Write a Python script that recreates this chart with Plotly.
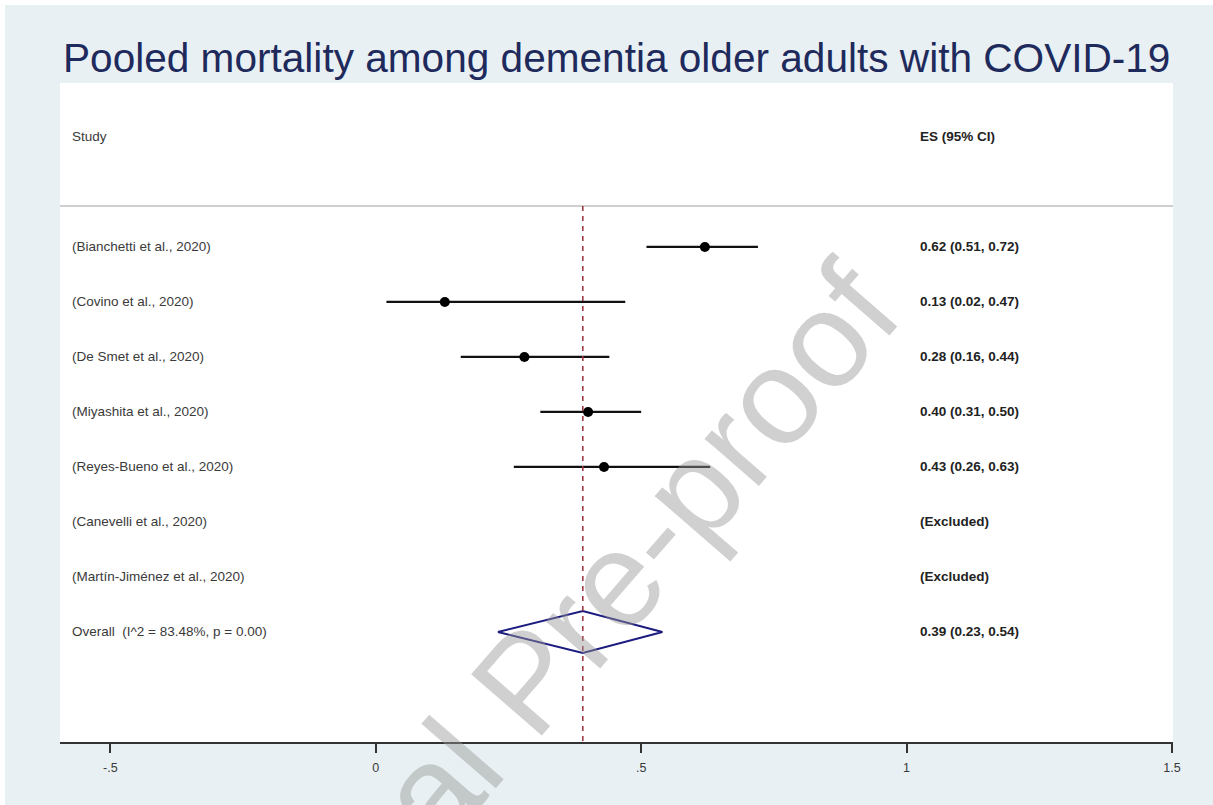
import plotly.graph_objects as go

# Study-level estimates (proportion who died, with 95% CI)
studies = [
    "(Bianchetti et al., 2020)",
    "(Covino et al., 2020)",
    "(De Smet et al., 2020)",
    "(Miyashita et al., 2020)",
    "(Reyes-Bueno et al., 2020)",
    "(Canevelli et al., 2020)",
    "(Martín-Jiménez et al., 2020)",
]
es = [0.62, 0.13, 0.28, 0.40, 0.43, None, None]
ci_low = [0.51, 0.02, 0.16, 0.31, 0.26, None, None]
ci_high = [0.72, 0.47, 0.44, 0.50, 0.63, None, None]

# Pooled estimate
overall_label = "Overall  (I^2 = 83.48%, p = 0.00)"
overall_es = 0.39
overall_low = 0.23
overall_high = 0.54

tick_vals = [-0.5, 0, 0.5, 1, 1.5]
tick_text = ["-.5", "0", ".5", "1", "1.5"]

title = "Pooled mortality among dementia older adults with COVID-19"

# ---- layout constants ----
W, H = 1213, 805
M_L, M_R, M_T, M_B = 60, 40, 83, 63
PW, PH = W - M_L - M_R, H - M_T - M_B
BG = "#e8f0f3"
TXT = "#3a3a3a"
FONT = "Liberation Sans, Arial, sans-serif"
X_RANGE = [-0.595, 1.502]
Y_RANGE = [9.0, -2.98]          # rows counted downward
HEADER_ROW = -2.0
SEPARATOR_ROW = -0.745
DIAMOND_HALF = 0.38
LABEL_X = (70 - M_L) / PW
ES_X = (918 - M_L) / PW
FS = 13.5

rows = list(range(len(studies)))
overall_row = len(studies)

fig = go.Figure()

# confidence interval whiskers
wx, wy = [], []
for r, lo, hi in zip(rows, ci_low, ci_high):
    if lo is None:
        continue
    wx += [lo, hi, None]
    wy += [r, r, None]
fig.add_trace(go.Scatter(x=wx, y=wy, mode="lines",
                         line=dict(color="#111111", width=2.2),
                         hoverinfo="skip", showlegend=False))

# point estimates
px = [v for v in es if v is not None]
py = [r for r, v in zip(rows, es) if v is not None]
fig.add_trace(go.Scatter(x=px, y=py, mode="markers",
                         marker=dict(symbol="circle", size=10, color="#000000"),
                         showlegend=False))

# pooled diamond
fig.add_trace(go.Scatter(
    x=[overall_low, overall_es, overall_high, overall_es, overall_low],
    y=[overall_row, overall_row - DIAMOND_HALF, overall_row,
       overall_row + DIAMOND_HALF, overall_row],
    mode="lines", line=dict(color="#1c1c80", width=2),
    showlegend=False, hoverinfo="skip"))

shapes = [
    # header separator
    dict(type="line", xref="paper", yref="y", x0=0, x1=1,
         y0=SEPARATOR_ROW, y1=SEPARATOR_ROW,
         line=dict(color="#cfcfcf", width=2), layer="below"),
    # reference line at the pooled estimate
    dict(type="line", xref="x", yref="y", x0=overall_es, x1=overall_es,
         y0=SEPARATOR_ROW, y1=Y_RANGE[0],
         line=dict(color="#a03844", width=1.6, dash="5px,5px")),
    # thin white border strips along the top and left edges
    dict(type="rect", xref="paper", yref="paper",
         x0=-M_L / PW, x1=(W - M_L) / PW,
         y0=(H - M_B - 5) / PH, y1=(H - M_B) / PH,
         line=dict(width=0), fillcolor="#ffffff"),
    dict(type="rect", xref="paper", yref="paper",
         x0=-M_L / PW, x1=(5 - M_L) / PW,
         y0=-M_B / PH, y1=(H - M_B) / PH,
         line=dict(width=0), fillcolor="#ffffff"),
]

def note(text, x, y, color=TXT):
    return dict(text=text, xref="paper", yref="y", x=x, y=y,
                xanchor="left", yanchor="middle", showarrow=False,
                font=dict(size=FS, color=color, family=FONT))

annotations = [note("Study", LABEL_X, HEADER_ROW),
               note("<b>ES (95% CI)</b>", ES_X, HEADER_ROW, "#222222")]
for r, name, e, lo, hi in zip(rows, studies, es, ci_low, ci_high):
    annotations.append(note(name, LABEL_X, r))
    label = "(Excluded)" if e is None else f"{e:.2f} ({lo:.2f}, {hi:.2f})"
    annotations.append(note(f"<b>{label}</b>", ES_X, r, "#222222"))
annotations.append(note(overall_label, LABEL_X, overall_row))
annotations.append(note(f"<b>{overall_es:.2f} ({overall_low:.2f}, {overall_high:.2f})</b>",
                        ES_X, overall_row, "#222222"))

# journal watermark
annotations.append(dict(text="Journal Pre-proof", xref="paper", yref="paper",
                        x=(526 - M_L) / PW, y=(H - M_B - 682) / PH,
                        xanchor="center", yanchor="middle", showarrow=False,
                        textangle=-49,
                        font=dict(size=136, color="rgba(150,150,150,0.45)", family=FONT)))

fig.update_layout(
    width=W, height=H,
    margin=dict(l=M_L, r=M_R, t=M_T, b=M_B),
    paper_bgcolor=BG,
    plot_bgcolor="#ffffff",
    title=dict(text=title, x=63 / W, xanchor="left", xref="container",
               y=(H - 58) / H, yanchor="middle", yref="container",
               font=dict(size=40.6, color="#1f2a5c", family=FONT)),
    xaxis=dict(range=X_RANGE, tickvals=tick_vals, ticktext=tick_text,
               showgrid=False, zeroline=False, showline=True,
               linecolor="#333333", linewidth=2,
               ticks="outside", ticklen=9, tickwidth=1.5, tickcolor="#333333",
               ticklabelstandoff=4,
               tickfont=dict(size=12.5, color=TXT, family=FONT)),
    yaxis=dict(range=Y_RANGE, visible=False, showgrid=False, zeroline=False),
    shapes=shapes,
    annotations=annotations,
    showlegend=False,
)

fig.write_html("out.html")
